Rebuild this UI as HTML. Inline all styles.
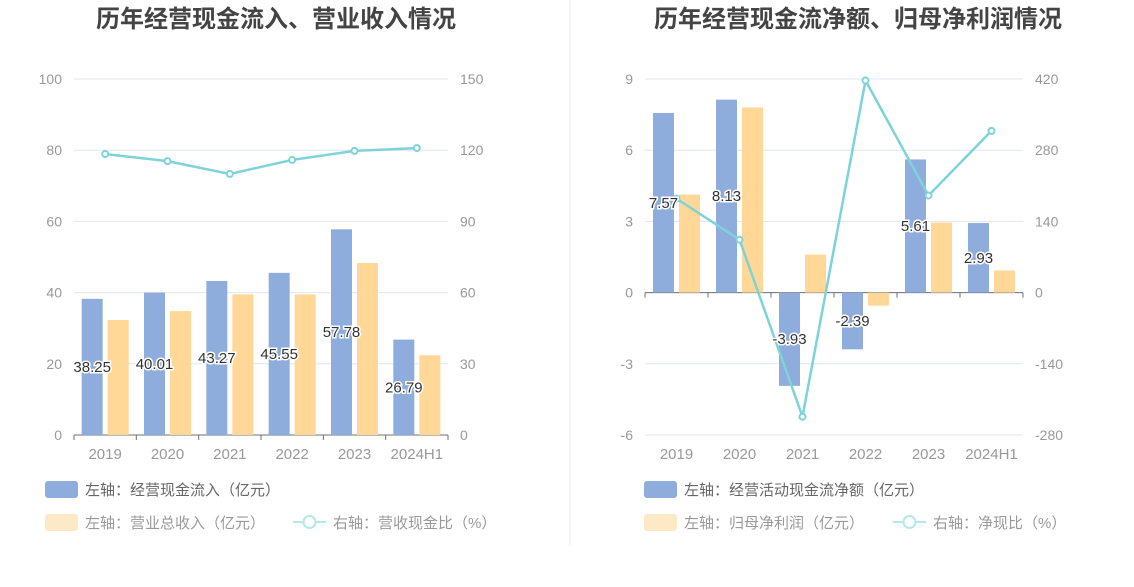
<!DOCTYPE html>
<html><head><meta charset="utf-8"><style>
body{margin:0;background:#fff;font-family:"Liberation Sans","Noto Sans CJK SC",sans-serif;}
svg text{font-family:"Liberation Sans","Noto Sans CJK SC",sans-serif;}
</style></head><body>
<svg id="c" width="1134" height="582" xmlns="http://www.w3.org/2000/svg">
<line x1="570" y1="0" x2="570" y2="545" stroke="#e8e8e8"/>
<text x="276" y="27" text-anchor="middle" font-size="24" font-weight="bold" fill="#444">历年经营现金流入、营业收入情况</text>
<text x="858" y="27" text-anchor="middle" font-size="24" font-weight="bold" fill="#444">历年经营现金流净额、归母净利润情况</text>
</svg>
<script>
const categories=["2019","2020","2021","2022","2023","2024H1"];
const leftInflow=[38.25,40.01,43.27,45.55,57.78,26.79];
const leftRevenue=[32.3,34.8,39.5,39.5,48.3,22.4];
const leftRatio=[118.4,115.4,110,115.9,119.7,120.9];
const leftTicksL=[0,20,40,60,80,100];
const leftTicksR=[0,30,60,90,120,150];
const rightNet=[7.57,8.13,-3.93,-2.39,5.61,2.93];
const rightProfit=[4.13,7.8,1.6,-0.55,2.95,0.93];
const rightRatio=[184.8,104,-244,417,191,318];
const rightTicksL=[-6,-3,0,3,6,9];
const rightTicksR=[-280,-140,0,140,280,420];

const svg=document.getElementById('c');
const NS='http://www.w3.org/2000/svg';
function mk(tag,attrs,parent){const e=document.createElementNS(NS,tag);for(const k in attrs)e.setAttribute(k,attrs[k]);(parent||svg).appendChild(e);return e;}
const BLUE='#8eaddc',YEL='#ffd797',LINE='#7dd3d8';

function drawChart(o){
  const top=79,bot=435,x0=o.x0,x1=o.x1;
  const lmin=o.tl[0],lmax=o.tl[o.tl.length-1],rmin=o.tr[0],rmax=o.tr[o.tr.length-1];
  const yL=v=>bot-(v-lmin)/(lmax-lmin)*(bot-top);
  const yR=v=>bot-(v-rmin)/(rmax-rmin)*(bot-top);
  const bw=(x1-x0)/categories.length;
  const cx=i=>x0+bw*(i+0.5);
  o.tl.forEach((t,i)=>{
    const g=mk('line',{x1:x0,x2:x1,y1:yL(t),y2:yL(t),stroke:'#e0e6f1'});
    
    const a=mk('text',{x:x0-12,y:yL(t)+5,'text-anchor':'end','font-size':14,fill:'#999'});a.textContent=t;
    
    const b=mk('text',{x:x1+12,y:yL(t)+5,'font-size':14,fill:'#999'});b.textContent=o.tr[i];
    
  });
  const zy=yL(Math.max(lmin,0));
  const ax=mk('line',{x1:x0,x2:x1,y1:zy,y2:zy,stroke:'#6e7079'});
  
  for(let i=0;i<=categories.length;i++){const t=mk('line',{x1:x0+bw*i,x2:x0+bw*i,y1:zy,y2:zy+5,stroke:'#6e7079'});}
  categories.forEach((c,i)=>{
    const t=mk('text',{x:cx(i),y:459,'text-anchor':'middle','font-size':15,fill:'#999'});t.textContent=c;
    
    const w=21;
    const v=o.a[i],y1=yL(v);
    const r=mk('rect',{x:cx(i)-w-2.5,y:Math.min(y1,zy),width:w,height:Math.abs(zy-y1),fill:BLUE});
    
    const v2=o.b[i],y2=yL(v2);
    const r2=mk('rect',{x:cx(i)+2.5,y:Math.min(y2,zy),width:w,height:Math.abs(zy-y2),fill:YEL});
    
  });
  const pts=o.l.map((v,i)=>cx(i)+','+yR(v)).join(' ');
  const pl=mk('polyline',{points:pts,fill:'none',stroke:LINE,'stroke-width':2.5});
  
  o.l.forEach((v,i)=>{const p=mk('circle',{cx:cx(i),cy:yR(v),r:3,fill:'#fff',stroke:LINE,'stroke-width':2});
    });
  o.a.forEach((v,i)=>{
    const y=(yL(v)+zy)/2+5;
    const t=mk('text',{x:cx(i)-13,y:y,'text-anchor':'middle','font-size':15,fill:'#333',stroke:'#fff','stroke-width':3,'paint-order':'stroke'});
    t.textContent=v.toFixed(2);
    
  });
  const lx=o.lx;
  const s1=mk('rect',{x:lx,y:481,width:33,height:17,rx:3,fill:BLUE});
  const t1=mk('text',{x:lx+40,y:495,'font-size':15,fill:'#666'});t1.textContent=o.la;
  const s2=mk('rect',{x:lx,y:514,width:33,height:17,rx:3,fill:'#fde9c6'});
  const t2=mk('text',{x:lx+40,y:528,'font-size':15,fill:'#999'});t2.textContent=o.lb;
  const ll=mk('line',{x1:o.llx,x2:o.llx+33,y1:522,y2:522,stroke:'#b5e8ea','stroke-width':2});
  const lc=mk('circle',{cx:o.llx+16.5,cy:522,r:6,fill:'#fff',stroke:'#b5e8ea','stroke-width':2});
  const t3=mk('text',{x:o.llx+40,y:528,'font-size':15,fill:'#999'});t3.textContent=o.lc;
}
drawChart({x0:74,x1:448,tl:leftTicksL,tr:leftTicksR,a:leftInflow,b:leftRevenue,l:leftRatio,lx:45,llx:293,
  la:'左轴：经营现金流入（亿元）',lb:'左轴：营业总收入（亿元）',lc:'右轴：营收现金比（%）'});
drawChart({x0:645,x1:1023,tl:rightTicksL,tr:rightTicksR,a:rightNet,b:rightProfit,l:rightRatio,lx:644,llx:893,
  la:'左轴：经营活动现金流净额（亿元）',lb:'左轴：归母净利润（亿元）',lc:'右轴：净现比（%）'});
</script>
</body></html>
